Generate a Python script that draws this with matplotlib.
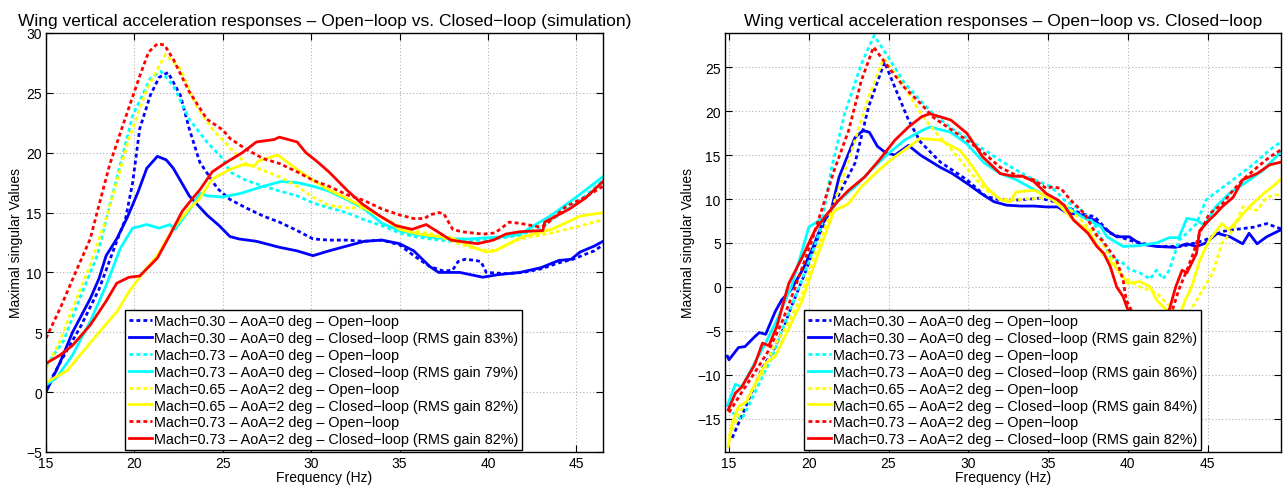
import matplotlib
matplotlib.use("Agg")
import matplotlib.pyplot as plt

plt.rcParams['font.family'] = ['Liberation Sans', 'DejaVu Sans']

labels_sim = [
    "Mach=0.30 \u2013 AoA=0 deg \u2013 Open\u2212loop",
    "Mach=0.30 \u2013 AoA=0 deg \u2013 Closed\u2212loop (RMS gain 83%)",
    "Mach=0.73 \u2013 AoA=0 deg \u2013 Open\u2212loop",
    "Mach=0.73 \u2013 AoA=0 deg \u2013 Closed\u2212loop (RMS gain 79%)",
    "Mach=0.65 \u2013 AoA=2 deg \u2013 Open\u2212loop",
    "Mach=0.65 \u2013 AoA=2 deg \u2013 Closed\u2212loop (RMS gain 82%)",
    "Mach=0.73 \u2013 AoA=2 deg \u2013 Open\u2212loop",
    "Mach=0.73 \u2013 AoA=2 deg \u2013 Closed\u2212loop (RMS gain 82%)",
]
labels_test = [
    "Mach=0.30 \u2013 AoA=0 deg \u2013 Open\u2212loop",
    "Mach=0.30 \u2013 AoA=0 deg \u2013 Closed\u2212loop (RMS gain 82%)",
    "Mach=0.73 \u2013 AoA=0 deg \u2013 Open\u2212loop",
    "Mach=0.73 \u2013 AoA=0 deg \u2013 Closed\u2212loop (RMS gain 86%)",
    "Mach=0.65 \u2013 AoA=2 deg \u2013 Open\u2212loop",
    "Mach=0.65 \u2013 AoA=2 deg \u2013 Closed\u2212loop (RMS gain 84%)",
    "Mach=0.73 \u2013 AoA=2 deg \u2013 Open\u2212loop",
    "Mach=0.73 \u2013 AoA=2 deg \u2013 Closed\u2212loop (RMS gain 82%)",
]
colors = ['#0000ff', '#0000ff', '#00ffff', '#00ffff', '#ffff00', '#ffff00', '#ff0000', '#ff0000']
open_loop = [True, False, True, False, True, False, True, False]

# ---- simulation (left) ----
f_sim_m030_ol = [15, 16, 17, 18, 19, 19.5, 19.9, 20.3, 20.9, 21.4, 21.9, 22.6, 23.1, 23.7, 24.7, 25.4, 26.3, 27.3, 28.2, 29.2, 30.1, 31, 32, 33, 34, 35, 35.8, 36.7, 37.5, 38.0, 38.3, 38.7, 39.3, 39.6, 39.9, 41, 42, 43, 44, 44.8, 45.3, 46, 46.5]
v_sim_m030_ol = [0.3, 3.0, 5.6, 8.6, 12.6, 14.5, 17.5, 22.0, 24.8, 26.3, 26.7, 24.8, 22.0, 19.2, 17.0, 16.1, 15.4, 14.7, 14.2, 13.5, 12.8, 12.7, 12.7, 12.6, 12.7, 12.3, 11.4, 10.5, 10.1, 10.2, 10.9, 11.1, 11.0, 10.9, 10.0, 9.9, 10.0, 10.3, 10.8, 11.1, 11.4, 11.8, 12.3]
f_sim_m030_cl = [15, 15.8, 16.5, 17.5, 18, 18.4, 19, 19.6, 20.2, 20.7, 21.3, 21.8, 22.2, 23.1, 24.1, 24.8, 25.4, 25.9, 26.9, 28.2, 29.2, 30.1, 31, 32, 33, 34, 35, 35.8, 36.7, 37.2, 38.4, 39.7, 40.5, 41.8, 43, 44, 44.7, 45.2, 46, 46.5]
v_sim_m030_cl = [0.0, 2.5, 5.0, 7.8, 9.5, 11.4, 12.8, 14.6, 16.7, 18.7, 19.7, 19.4, 18.7, 16.4, 14.8, 13.9, 13.0, 12.8, 12.6, 12.1, 11.8, 11.4, 11.8, 12.2, 12.6, 12.7, 12.4, 11.8, 10.5, 10.0, 10.0, 9.6, 9.8, 10.0, 10.4, 11.0, 11.1, 11.7, 12.2, 12.6]
f_sim_m073a0_ol = [15, 16, 16.9, 17.9, 18.5, 19.2, 19.9, 20.9, 21.5, 22.2, 23.1, 24.1, 25.0, 25.4, 26.3, 27.3, 28.2, 29.2, 30.1, 31, 32, 33, 34, 35, 35.8, 36.7, 37.9, 39.9, 41.8, 43, 44.4, 45.5, 46.5]
v_sim_m073a0_ol = [2.2, 4.3, 7.8, 11.4, 15.0, 19.0, 23.1, 26.2, 26.8, 25.6, 22.8, 20.9, 19.5, 18.4, 17.7, 17.2, 16.8, 16.4, 15.8, 15.4, 15.0, 14.4, 13.9, 13.3, 13.0, 12.8, 12.6, 12.7, 13.1, 13.8, 15.2, 16.4, 17.7]
f_sim_m073a0_cl = [15, 15.6, 16.5, 17.5, 18.4, 19.2, 19.9, 20.7, 21.4, 22.0, 22.3, 22.6, 23.3, 23.7, 24.1, 25.0, 26.0, 27.3, 28.3, 29.2, 30.1, 31, 32, 33, 34, 35, 35.8, 37, 38, 39, 40, 41, 41.8, 43.6, 45, 46.5]
v_sim_m073a0_cl = [0.6, 1.2, 3.1, 5.9, 8.9, 12.0, 13.7, 14.0, 13.7, 14.0, 13.6, 14.2, 15.6, 16.6, 16.4, 16.3, 16.6, 17.2, 17.6, 17.5, 17.2, 16.8, 16.1, 15.3, 14.1, 13.5, 13.2, 12.9, 12.8, 12.8, 12.9, 13.0, 13.2, 14.8, 16.3, 18.0]
f_sim_m065a2_ol = [15, 15.8, 16.5, 17.5, 18.4, 19.7, 20.7, 21.75, 22.6, 23.5, 24.4, 25.4, 26.3, 27.3, 28.2, 29.2, 30.1, 31, 32, 33, 34, 35, 35.8, 36.8, 38, 39, 40, 40.5, 41.8, 43.6, 45, 46.5]
v_sim_m065a2_ol = [2.0, 4.3, 7.0, 10.6, 14.5, 21.2, 25.3, 28.2, 27.0, 23.9, 22.0, 20.4, 19.1, 18.5, 18.0, 17.2, 16.3, 15.6, 15.4, 15.4, 14.6, 13.9, 13.5, 13.2, 12.6, 12.1, 11.8, 11.9, 12.8, 13.3, 13.8, 14.4]
f_sim_m065a2_cl = [15, 16.2, 17.1, 18, 19, 19.7, 20.5, 21.3, 22.2, 23.1, 23.7, 24.4, 25.4, 26.1, 26.8, 27.0, 28.1, 28.3, 29.2, 30.1, 31, 32, 33, 34, 35, 35.8, 36.6, 37.9, 39.0, 39.9, 40.4, 41.8, 43.6, 45.2, 46.5]
v_sim_m065a2_cl = [0.8, 1.8, 3.4, 5.0, 6.7, 8.4, 10.0, 11.4, 13.7, 15.3, 16.2, 17.8, 18.6, 19.0, 18.9, 19.3, 19.8, 19.6, 18.6, 17.7, 16.9, 16.2, 15.4, 14.6, 13.6, 13.3, 13.1, 12.9, 12.2, 11.7, 11.8, 12.9, 13.6, 14.7, 15.0]
f_sim_m073a2_ol = [15, 15.8, 16.7, 17.5, 18.1, 18.6, 19.35, 20.3, 20.8, 21.3, 21.7, 22.2, 23.1, 24.1, 25.0, 25.4, 26.3, 27.3, 28.2, 29.2, 30.1, 31, 32, 33, 34, 35, 35.8, 36.4, 36.7, 37.2, 37.5, 38.0, 38.5, 39.7, 40.4, 41.2, 41.8, 42.9, 43.2, 44.4, 45.5, 46.5]
v_sim_m073a2_ol = [4.5, 7.0, 10.1, 12.8, 16.2, 19.0, 22.3, 26.4, 28.4, 29.1, 29.0, 27.8, 25.1, 22.8, 21.9, 21.2, 20.3, 19.5, 19.1, 18.4, 17.7, 17.2, 16.5, 16.0, 15.3, 14.8, 14.5, 14.5, 14.8, 15.0, 14.9, 13.6, 13.4, 13.2, 13.3, 14.2, 14.1, 13.8, 13.9, 15.5, 16.3, 17.2]
f_sim_m073a2_cl = [15, 15.8, 16.5, 17.5, 18.4, 19.0, 19.7, 20.3, 21.3, 22.0, 22.7, 23.3, 23.7, 24.4, 25.2, 26.1, 26.9, 27.9, 28.2, 29.2, 29.7, 30.3, 31.0, 32.0, 32.9, 33.9, 34.8, 35.7, 36.5, 37.9, 39.4, 40.3, 41.0, 41.8, 43.1, 43.2, 44.6, 45.5, 46.5]
v_sim_m073a2_cl = [2.4, 3.1, 3.9, 5.6, 7.6, 9.1, 9.6, 9.7, 11.2, 13.1, 15.1, 16.2, 16.9, 18.4, 19.2, 20.0, 20.9, 21.1, 21.3, 20.9, 20.0, 19.3, 18.4, 16.9, 15.7, 14.7, 13.9, 13.6, 14.0, 12.7, 12.4, 12.7, 13.2, 13.4, 13.5, 14.2, 15.3, 16.2, 17.6]

# ---- flight test (right) ----
f_fl_m030_ol = [15.2, 15.8, 16.4, 17.1, 17.7, 18.3, 18.9, 19.75, 20.6, 21.6, 22.9, 23.75, 24.75, 25.4, 26.25, 27.0, 28.25, 29.9, 31.1, 32.0, 33.3, 34.5, 35.4, 36.2, 37.1, 37.9, 38.9, 40.1, 41.8, 43.4, 44.8, 45.9, 46.6, 47.9, 48.7, 49.6]
v_fl_m030_ol = [-17.2, -14.7, -12.1, -9.2, -7.5, -5.3, -2.3, 1.5, 5.7, 9.5, 14.1, 20.5, 25.6, 22.7, 19.0, 16.5, 14.2, 12.2, 10.3, 9.9, 9.9, 10.1, 9.7, 9.1, 8.3, 8.0, 6.1, 5.3, 4.6, 4.6, 5.3, 6.3, 6.5, 6.8, 7.2, 6.6]
f_fl_m030_cl = [14.9, 15.0, 15.6, 16.0, 16.6, 16.9, 17.3, 17.9, 18.3, 18.9, 19.6, 20.2, 20.8, 21.4, 21.9, 22.9, 23.4, 23.8, 24.3, 24.8, 25.4, 26.25, 27.0, 28.25, 29.0, 29.9, 30.75, 31.6, 32.4, 33.3, 34.1, 34.9, 35.6, 36.2, 37.1, 37.9, 38.4, 39.3, 40.1, 40.75, 41.8, 43.0, 43.7, 44.3, 44.9, 45.6, 46.4, 47.2, 47.6, 48.1, 48.7, 49.6]
v_fl_m030_cl = [-7.9, -8.3, -6.9, -6.8, -5.7, -5.2, -5.4, -2.8, -1.5, -0.3, 1.9, 4.2, 7.0, 8.7, 12.5, 17.0, 17.8, 17.6, 16.0, 15.3, 15.0, 16.1, 15.0, 13.6, 12.9, 11.8, 10.7, 9.7, 9.3, 9.2, 9.2, 9.1, 9.1, 8.4, 8.2, 7.6, 6.8, 5.7, 5.7, 4.9, 4.6, 4.5, 4.9, 4.6, 5.0, 6.1, 5.7, 4.9, 6.1, 4.9, 5.7, 6.5]
f_fl_m073a0_ol = [15.2, 15.8, 16.4, 17.1, 17.7, 18.5, 19.4, 20.2, 20.8, 21.4, 22.25, 23.3, 24.1, 25.0, 26.0, 27.0, 27.8, 29.0, 30.0, 31.0, 32.0, 33.0, 34.1, 35.1, 35.6, 36.0, 37.1, 37.9, 38.9, 39.7, 40.1, 40.75, 41.4, 41.8, 42.2, 42.6, 43.2, 43.7, 44.3, 44.9, 45.7, 46.6, 47.9, 48.9, 49.6]
v_fl_m073a0_ol = [-14.3, -15.1, -12.9, -10.2, -8.0, -4.1, 0.0, 3.8, 7.0, 13.3, 19.7, 25.4, 28.6, 26.1, 23.2, 21.2, 19.7, 18.0, 16.8, 15.6, 14.4, 13.3, 12.2, 11.5, 10.7, 9.9, 8.7, 7.2, 3.4, 2.7, 2.0, 1.6, 0.9, 1.9, 0.9, 1.9, 5.3, 6.1, 7.2, 9.9, 11.0, 12.2, 14.0, 15.6, 16.5]
f_fl_m073a0_cl = [14.9, 15.4, 15.8, 16.6, 17.3, 18.1, 18.9, 19.6, 20.0, 20.6, 21.2, 21.9, 22.9, 23.9, 25.0, 26.0, 27.1, 27.6, 28.9, 29.9, 31.0, 32.0, 33.0, 33.7, 34.5, 35.4, 36.2, 37.1, 38.3, 38.7, 39.7, 40.7, 41.8, 42.6, 43.2, 43.7, 44.3, 44.8, 45.5, 46.4, 47.4, 48.5, 49.6]
v_fl_m073a0_cl = [-13.5, -11.1, -11.4, -8.7, -6.4, -3.4, 0.0, 4.2, 6.8, 7.5, 8.3, 9.9, 11.4, 13.3, 15.2, 16.7, 17.8, 18.2, 17.6, 16.3, 14.1, 12.9, 12.2, 11.5, 10.7, 9.9, 9.1, 8.0, 6.9, 5.7, 4.6, 4.7, 5.0, 5.6, 5.6, 7.8, 7.6, 7.0, 9.1, 10.7, 11.9, 13.3, 15.4]
f_fl_m065a2_ol = [15.0, 15.7, 16.4, 17.1, 17.8, 18.6, 19.6, 20.3, 21.2, 22.1, 22.9, 23.75, 24.7, 25.4, 26.25, 27.1, 28.0, 29.0, 30.0, 31.0, 32.0, 33.0, 35.1, 36.2, 37.3, 38.3, 38.9, 39.7, 40.75, 41.8, 42.4, 43.5, 44.8, 45.3, 45.9, 46.6, 47.2, 48.1, 48.7, 49.6]
v_fl_m065a2_ol = [-17.0, -14.3, -11.8, -9.9, -6.9, -4.5, -0.7, 3.4, 7.6, 12.2, 16.7, 21.6, 26.0, 24.3, 22.0, 19.5, 17.5, 15.5, 13.3, 11.2, 10.0, 9.9, 10.2, 9.1, 7.2, 5.3, 3.4, 1.2, 0.0, -0.7, -1.8, -4.0, 0.0, 1.5, 5.0, 6.5, 9.1, 8.7, 10.2, 10.6]
f_fl_m065a2_cl = [14.95, 15.2, 15.6, 16.1, 16.75, 17.3, 17.9, 18.6, 19.6, 20.3, 21.2, 21.6, 22.1, 22.5, 23.3, 24.4, 25.4, 27.0, 28.25, 29.5, 30.3, 31.1, 32.0, 32.6, 33.0, 34.1, 35.1, 35.8, 36.6, 37.5, 38.4, 39.2, 40.0, 40.75, 41.4, 41.8, 42.4, 43.1, 43.6, 44.0, 44.5, 45.1, 45.9, 46.3, 46.9, 47.6, 48.5, 49.2, 49.6]
v_fl_m065a2_cl = [-18.2, -15.5, -13.6, -13.1, -10.6, -8.7, -7.9, -5.3, -1.5, 2.3, 6.8, 8.7, 9.1, 9.5, 11.4, 13.3, 14.8, 16.9, 16.7, 15.5, 13.6, 11.4, 9.9, 9.7, 10.8, 11.0, 10.2, 9.1, 7.6, 6.4, 3.8, 2.3, 0.4, 0.6, 0.0, -1.5, -2.6, -4.0, -1.5, 0.0, 3.0, 5.3, 7.2, 6.5, 7.6, 9.1, 10.6, 11.6, 12.3]
f_fl_m073a2_ol = [15.0, 15.8, 16.6, 17.5, 18.3, 19.1, 20.2, 20.8, 21.6, 22.5, 23.3, 24.06, 25.0, 26.0, 27.1, 27.8, 29.9, 31.0, 32.0, 33.0, 34.1, 34.9, 35.3, 35.8, 36.4, 37.3, 38.1, 38.4, 39.3, 39.7, 39.9, 40.2, 41.5, 42.8, 43.2, 43.7, 44.1, 44.5, 45.1, 45.9, 46.6, 47.2, 48.1, 48.9, 49.6]
v_fl_m073a2_ol = [-14.3, -12.0, -9.8, -7.2, -4.1, -0.3, 5.3, 8.7, 13.3, 17.8, 23.5, 27.3, 25.0, 22.7, 20.7, 19.3, 16.7, 15.2, 13.6, 12.7, 12.2, 11.2, 11.4, 11.2, 9.9, 8.3, 5.7, 5.3, 3.0, 0.8, -1.5, -2.6, -5.0, -2.6, -0.3, 1.9, 3.8, 6.1, 8.3, 9.4, 11.0, 12.2, 13.6, 14.8, 15.6]
f_fl_m073a2_cl = [14.95, 15.4, 15.8, 16.6, 17.1, 17.5, 18.0, 18.75, 19.6, 20.4, 21.2, 21.8, 22.5, 23.5, 24.4, 25.4, 26.25, 27.1, 27.6, 28.9, 29.9, 30.9, 32.0, 32.8, 33.4, 34.1, 34.9, 35.6, 36.0, 36.6, 37.5, 38.06, 38.5, 38.9, 39.3, 39.7, 40.0, 41.2, 42.6, 43.0, 43.4, 43.7, 44.3, 44.5, 45.1, 45.5, 45.9, 46.6, 47.2, 48.1, 48.9, 49.6]
v_fl_m073a2_cl = [-14.0, -12.1, -11.4, -8.9, -6.4, -6.7, -4.5, 0.4, 3.4, 6.5, 8.4, 9.7, 11.0, 12.5, 14.4, 16.7, 18.2, 19.4, 19.7, 19.0, 17.5, 14.8, 12.9, 12.6, 12.6, 12.0, 10.6, 9.9, 9.3, 7.6, 6.1, 4.6, 3.8, 2.3, 0.0, -1.1, -2.6, -5.0, -2.6, 0.0, 1.9, 1.6, 3.8, 6.4, 7.6, 8.3, 9.1, 10.2, 12.2, 12.9, 13.9, 14.2]

sim_curves = [
    (f_sim_m030_ol, v_sim_m030_ol), (f_sim_m030_cl, v_sim_m030_cl),
    (f_sim_m073a0_ol, v_sim_m073a0_ol), (f_sim_m073a0_cl, v_sim_m073a0_cl),
    (f_sim_m065a2_ol, v_sim_m065a2_ol), (f_sim_m065a2_cl, v_sim_m065a2_cl),
    (f_sim_m073a2_ol, v_sim_m073a2_ol), (f_sim_m073a2_cl, v_sim_m073a2_cl),
]
fl_curves = [
    (f_fl_m030_ol, v_fl_m030_ol), (f_fl_m030_cl, v_fl_m030_cl),
    (f_fl_m073a0_ol, v_fl_m073a0_ol), (f_fl_m073a0_cl, v_fl_m073a0_cl),
    (f_fl_m065a2_ol, v_fl_m065a2_ol), (f_fl_m065a2_cl, v_fl_m065a2_cl),
    (f_fl_m073a2_ol, v_fl_m073a2_ol), (f_fl_m073a2_cl, v_fl_m073a2_cl),
]

W, H = 1283, 489
fig = plt.figure(figsize=(W / 100, H / 100), dpi=100)
ax1 = fig.add_axes([46 / W, 1 - 453 / H, 557 / W, 419 / H])
ax2 = fig.add_axes([725 / W, 1 - 453 / H, 556 / W, 419 / H])


def draw(ax, curves, labels, title, xlim, ylim, yticks, legend_x):
    for (f, v), c, ol, lab in zip(curves, colors, open_loop, labels):
        if ol:
            ax.plot(f, v, color=c, lw=2.0, linestyle=(0, (1.4, 1.1)), label=lab)
        else:
            ax.plot(f, v, color=c, lw=2.0, label=lab)
    ax.set_xlim(*xlim)
    ax.set_ylim(*ylim)
    ax.set_xticks([15, 20, 25, 30, 35, 40, 45])
    ax.set_yticks(yticks)
    ax.grid(True, color='#b0b0b0', linestyle=(0, (1, 2)), linewidth=0.8)
    ax.tick_params(direction='in', top=True, right=True, length=5, labelsize=10, pad=3)
    for s in ax.spines.values():
        s.set_linewidth(1.0)
    ax.set_title(title, fontsize=12.5, pad=6)
    ax.set_xlabel('Frequency (Hz)', fontsize=10, labelpad=0)
    ax.set_ylabel('Maximal singular Values', fontsize=10, labelpad=2)
    leg = ax.legend(loc='lower left', bbox_to_anchor=(legend_x, 0.005), fontsize=10.4,
                    frameon=True, fancybox=False, edgecolor='black', framealpha=1,
                    handlelength=1.6, handletextpad=0.15, labelspacing=0.2,
                    borderpad=0.25, borderaxespad=0)
    leg.get_frame().set_linewidth(1.0)


draw(ax1, sim_curves, labels_sim,
     'Wing vertical acceleration responses \u2013 Open\u2212loop vs. Closed\u2212loop (simulation)',
     (15, 46.5), (-5, 30), [-5, 0, 5, 10, 15, 20, 25, 30], 0.142)
draw(ax2, fl_curves, labels_test,
     'Wing vertical acceleration responses \u2013 Open\u2212loop vs. Closed\u2212loop',
     (14.75, 49.6), (-18.8, 28.9), [-15, -10, -5, 0, 5, 10, 15, 20, 25], 0.142)

fig.savefig('out.png', dpi=100)
